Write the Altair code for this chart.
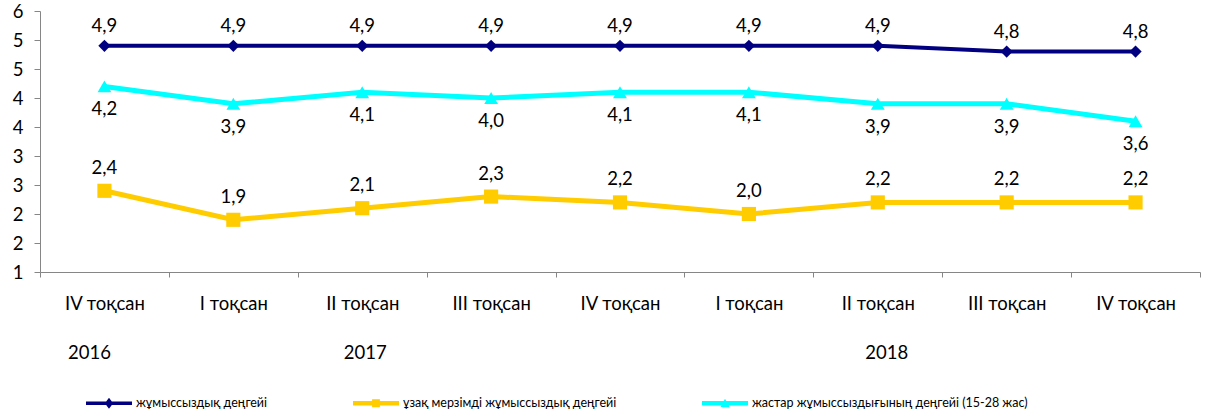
import json
import altair as alt
import pandas as pd

categories = ["IV тоқсан", "I тоқсан", "II тоқсан", "III тоқсан", "IV тоқсан",
              "I тоқсан", "II тоқсан", "III тоқсан", "IV тоқсан"]
unemployment = [4.9, 4.9, 4.9, 4.9, 4.9, 4.9, 4.9, 4.8, 4.8]
long_term = [2.4, 1.9, 2.1, 2.3, 2.2, 2.0, 2.2, 2.2, 2.2]
youth = [4.2, 3.9, 4.1, 4.0, 4.1, 4.1, 3.9, 3.9, 3.6]
series_names = ["жұмыссыздық деңгейі",
                "ұзақ мерзімді жұмыссыздық деңгейі",
                "жастар жұмыссыздығының деңгейі (15-28 жас)"]
years = ["2016", "2017", "2018"]
year_idx = [0, 2, 6]
y_ticks = [1, 1.5, 2, 2.5, 3, 3.5, 4, 4.5, 5, 5.5]

colors = ["#000080", "#FFCC00", "#00FFFF"]
shapes = ["diamond", "square", "triangle-up"]
widths = [4, 5, 5]
sizes = [150, 200, 190]
label_dy = [-20, -23, 23]

rows = []
for name, vals in zip(series_names, [unemployment, long_term, youth]):
    for i, v in enumerate(vals):
        rows.append({"idx": i, "series": name, "v": v})
df = pd.DataFrame(rows)

FONT = "Lato, Noto Sans, sans-serif"
FS = 18.5
label_expr = json.dumps(categories, ensure_ascii=False) + "[datum.value]"

x_axis = alt.Axis(title=None, labelExpr=label_expr, tickBand="extent", labelAngle=0,
                  labelFontSize=FS, labelPadding=17, tickSize=5, domainColor="#868686",
                  tickColor="#868686", labelColor="#000000", labelFont=FONT)
y_axis = alt.Axis(title=None, values=y_ticks, labelExpr="round(datum.value)", grid=False,
                  labelFontSize=FS, labelPadding=11, tickSize=6, domainColor="#868686",
                  tickColor="#868686", labelColor="#000000", labelFont=FONT)

x_enc = alt.X("idx:O", scale=alt.Scale(type="band", paddingInner=0, paddingOuter=0,
                                       domain=list(range(len(categories)))),
              axis=x_axis, bandPosition=0.5)
y_enc = alt.Y("v:Q", scale=alt.Scale(domain=[1, 5.5], nice=False, zero=False), axis=y_axis)

base = alt.Chart(df)
layers = []
for name, c, sh, w, sz in zip(series_names, colors, shapes, widths, sizes):
    layers.append(base.transform_filter(alt.datum.series == name)
                  .mark_line(color=c, strokeWidth=w)
                  .encode(x=x_enc, y=y_enc))
for name, c, sh, w, sz in zip(series_names, colors, shapes, widths, sizes):
    layers.append(base.transform_filter(alt.datum.series == name)
                  .mark_point(shape=sh, filled=True, color=c, size=sz, opacity=1)
                  .encode(x=x_enc, y=y_enc))
for name, dy in zip(series_names, label_dy):
    layers.append(base.transform_filter(alt.datum.series == name)
                  .transform_calculate(lab="replace(format(datum.v, '.1f'), '.', ',')")
                  .mark_text(dy=dy, fontSize=FS, font=FONT, color="#000000")
                  .encode(x=x_enc, y=y_enc, text="lab:N"))

year_df = pd.DataFrame({"idx": year_idx, "year": years, "v": [1, 1, 1]})
for yr, i, dx in zip(years, year_idx, [-15, 3, 9]):
    layers.append(alt.Chart(year_df).transform_filter(alt.datum.year == yr)
                  .mark_text(dx=dx, fontSize=FS, font=FONT, color="#000000")
                  .encode(x=x_enc, y=alt.value(342), text="year:N"))

# legend symbols: line + marker
leg_paths = [
    "M-1,-0.08H1V0.08H-1Z M0,-0.24L0.18,0L0,0.24L-0.18,0Z",
    "M-1,-0.1H1V0.1H-1Z M-0.17,-0.17H0.17V0.17H-0.17Z",
    "M-1,-0.1H1V0.1H-1Z M0,-0.2L0.2,0.17H-0.2Z",
]
leg = alt.Legend(title=None, orient="none", direction="horizontal",
                 legendX=46, legendY=369, columnPadding=85,
                 labelFontSize=12.5, labelFont=FONT, labelOffset=4,
                 labelColor="#000000", symbolSize=2116,
                 symbolStrokeWidth=0, labelLimit=400, symbolOpacity=1)
legend_layer = (base.transform_filter("false")
                .mark_point(filled=True, opacity=1, size=2116)
                .encode(x=x_enc, y=y_enc,
                        color=alt.Color("series:N", scale=alt.Scale(domain=series_names, range=colors),
                                        legend=leg),
                        shape=alt.Shape("series:N", scale=alt.Scale(domain=series_names, range=leg_paths),
                                        legend=leg)))
layers.append(legend_layer)

chart = (alt.layer(*layers)
         .properties(width=1160, height=261,
                     autosize=alt.AutoSizeParams(type="none"),
                     padding={"left": 40, "top": 11, "right": 17, "bottom": 145},
                     background="#ffffff")
         .configure_view(stroke=None))

chart.save("out.html", embed_options={"renderer": "svg", "actions": False})
